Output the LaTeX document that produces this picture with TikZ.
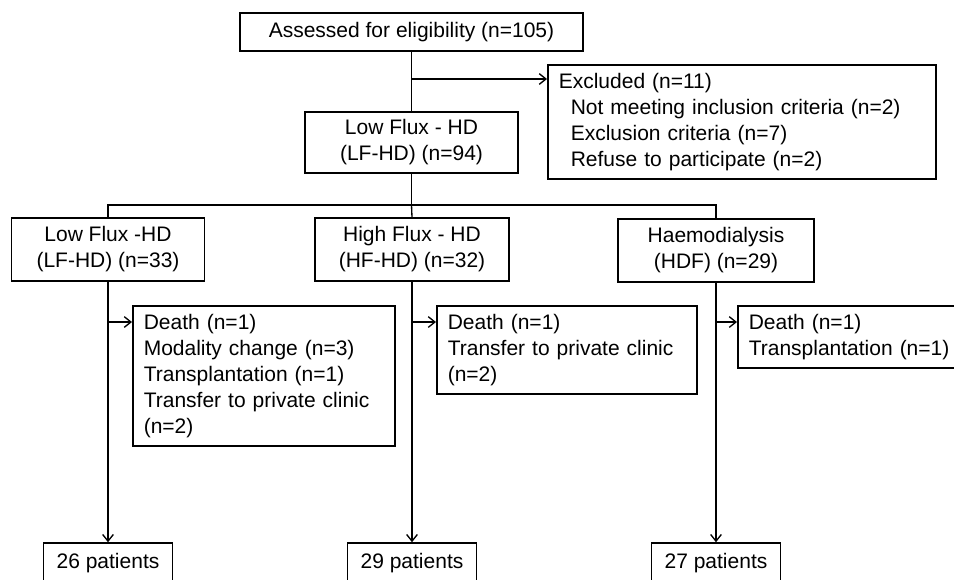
\documentclass[tikz,border=0pt]{standalone}
\usepackage{fontspec}
\setmainfont{Liberation Sans}
\usetikzlibrary{arrows.meta}
\begin{document}
\begin{tikzpicture}[x=0.75pt, y=-0.75pt,
  box/.style={draw, line width=1.2pt, inner sep=0pt, align=center,
    font=\fontsize{15.75}{19.5}\selectfont},
  listbox/.style={box, anchor=north west, align=left, inner xsep=8.25pt},
  link/.style={line width=1pt},
  >={Straight Barb[length=5pt,width=8pt]}]
  \useasboundingbox (0,0) rectangle (954,579);
  \node[box, minimum width=257.25pt, minimum height=28.5pt] (assess) at (411.5,32) {Assessed for eligibility (n=105)};
  \node[listbox, text width=274.5pt, minimum height=85.5pt] (excl) at (547,64)
    {Excluded (n=11)\\
     \hspace*{9pt}Not meeting inclusion criteria (n=2)\\
     \hspace*{9pt}Exclusion criteria (n=7)\\
     \hspace*{9pt}Refuse to participate (n=2)};
  \node[box, minimum width=159.75pt, minimum height=45.75pt] (lowflux) at (411.5,142.5) {Low Flux - HD\\(LF-HD) (n=94)};
  \node[box, minimum width=144.75pt, minimum height=47.25pt] (lf) at (108,249.5) {Low Flux -HD\\(LF-HD) (n=33)};
  \node[box, minimum width=145.5pt, minimum height=47.25pt] (hf) at (412,249.5) {High Flux - HD\\(HF-HD) (n=32)};
  \node[box, minimum width=147pt, minimum height=47.25pt] (hdf) at (716,250.5) {Haemodialysis\\(HDF) (n=29)};
  \node[listbox, text width=180pt, minimum height=105pt] (lfloss) at (132,305)
    {Death (n=1)\\Modality change (n=3)\\Transplantation (n=1)\\Transfer to private clinic\\(n=2)};
  \node[listbox, text width=178.5pt, minimum height=66pt] (hfloss) at (436,305)
    {Death (n=1)\\Transfer to private clinic\\(n=2)};
  \node[listbox, text width=156pt, minimum height=46.5pt] (hdfloss) at (737,305)
    {Death (n=1)\\Transplantation (n=1)};
  \foreach \col/\num in {lf/26, hf/29, hdf/27}
    \node[box, minimum width=96.75pt, minimum height=30pt] (\col end) at (\col |- 0,563) {\num\ patients};

  \coordinate (split) at (411.5,79);
  \coordinate (bus) at (411.5,205);
  \draw[link] (assess) -- (lowflux);
  \draw[link,->] (split) -- (split -| excl.west);
  \draw[link] (lowflux) -- (bus);
  \draw[link] (lf.north) |- (bus) -| (hdf.north);
  \draw[link] (bus) -- (hf.north);
  \foreach \col in {lf, hf, hdf} {
    \draw[link,->] (\col) -- (\col end);
    \coordinate (\col side) at (\col |- 0,322);
    \draw[link,->] (\col side) -- (\col side -| \col loss.west);
  }
\end{tikzpicture}
\end{document}
